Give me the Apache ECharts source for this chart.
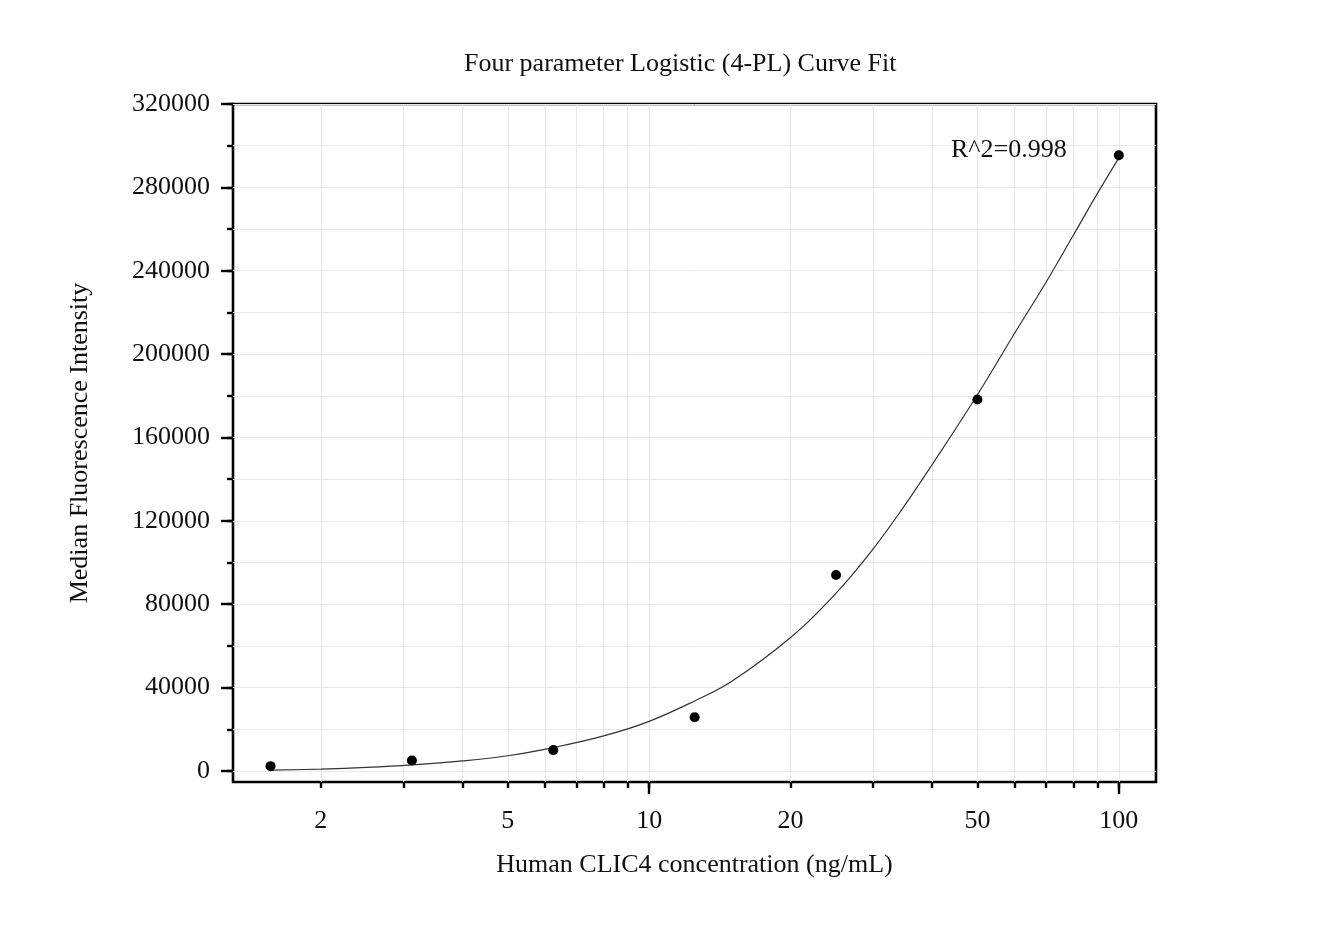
<!DOCTYPE html>
<html>
<head>
<meta charset="utf-8">
<title>4-PL Curve Fit</title>
<script src="https://cdn.jsdelivr.net/npm/echarts@6/dist/echarts.min.js"></script>
<style>
  html, body { margin: 0; padding: 0; background: #fff; }
  #chart { width: 1330px; height: 932px; }
</style>
</head>
<body>
<div id="chart"></div>
<script>
'use strict';

/* ── Data ── */
const pointConc = [1.5625, 3.125, 6.25, 12.5, 25, 50, 100];
const pointMFI  = [2300, 5000, 10000, 25800, 94000, 178200, 295400];

// fitted 4-PL curve
const curveConc = [1.5625, 2, 2.5, 3.125, 4, 5, 6.25, 8, 10, 12.5, 15, 20, 25, 30, 35, 40, 50, 60, 70, 80, 90, 100];
const curveMFI  = [400, 900, 1700, 2900, 4800, 7300, 11200, 16800, 23800, 33600, 43000, 64000, 85300, 106600, 127400, 146800, 180500, 210000, 234500, 257000, 277000, 294000];

const xLabelValues = [2, 5, 10, 20, 50, 100];
const xMajorTicks  = [10, 100];
const xMinorTicks  = [2, 3, 4, 5, 6, 7, 8, 9, 10, 20, 30, 40, 50, 60, 70, 80, 90, 100];
const yMajorTicks  = [0, 40000, 80000, 120000, 160000, 200000, 240000, 280000, 320000];
const yMinorTicks  = [0, 20000, 40000, 60000, 80000, 100000, 120000, 140000, 160000,
                      180000, 200000, 220000, 240000, 260000, 280000, 300000, 320000];

const titleText = 'Four parameter Logistic (4-PL) Curve Fit';
const xName = 'Human CLIC4 concentration (ng/mL)';
const yName = 'Median Fluorescence Intensity';
const r2Text = 'R^2=0.998';

/* ── Style ── */
const FONT = "'Liberation Serif', 'DejaVu Serif', serif";
const X_MIN = 1.3, X_MAX = 120;
const Y_MIN = -5300, Y_MAX = 320000;
const GRID_COLOR = '#e8e8e8';

const chart = echarts.init(document.getElementById('chart'), null, { renderer: 'canvas' });

const xBase = { type: 'log', logBase: 10, min: X_MIN, max: X_MAX, position: 'bottom' };
const yBase = { type: 'value', min: Y_MIN, max: Y_MAX, position: 'left' };
const noLine = { show: false, onZero: false };

chart.setOption({
  backgroundColor: '#fff',
  animation: false,
  textStyle: { fontFamily: FONT, color: '#000' },
  title: {
    text: titleText,
    left: 464,
    top: 51,
    padding: 0,
    textStyle: { fontFamily: FONT, fontSize: 26, fontWeight: 'normal', color: '#111' }
  },
  grid: {
    left: 233, top: 104, right: 174, bottom: 150,
    show: true, borderColor: '#000', borderWidth: 2.6, backgroundColor: 'transparent'
  },
  xAxis: [
    {
      ...xBase,
      name: xName,
      nameLocation: 'middle',
      nameGap: 70,
      nameTextStyle: { fontFamily: FONT, fontSize: 26, color: '#111' },
      axisLine: noLine,
      axisTick: { show: true, inside: false, length: 12, customValues: xMajorTicks,
                  lineStyle: { color: '#000', width: 2.4 } },
      axisLabel: { show: true, customValues: xLabelValues, margin: 26,
                   fontFamily: FONT, fontSize: 26, color: '#111',
                   formatter: v => String(v) },
      splitLine: { show: false },
      z: 5
    },
    {
      ...xBase,
      axisLine: noLine,
      axisTick: { show: true, inside: false, length: 6, customValues: xMinorTicks,
                  lineStyle: { color: '#000', width: 2.4 } },
      axisLabel: { show: false },
      splitLine: { show: true, lineStyle: { color: GRID_COLOR, width: 1 } },
      z: 4
    }
  ],
  yAxis: [
    {
      ...yBase,
      name: yName,
      nameLocation: 'middle',
      nameGap: 140,
      nameRotate: 90,
      nameTextStyle: { fontFamily: FONT, fontSize: 26, color: '#111' },
      axisLine: noLine,
      axisTick: { show: true, inside: false, length: 12, customValues: yMajorTicks,
                  lineStyle: { color: '#000', width: 2.4 } },
      axisLabel: { show: true, customValues: yMajorTicks, margin: 23,
                   fontFamily: FONT, fontSize: 26, color: '#111',
                   formatter: v => String(v) },
      splitLine: { show: false },
      z: 5
    },
    {
      ...yBase,
      axisLine: noLine,
      axisTick: { show: true, inside: false, length: 6, customValues: yMinorTicks,
                  lineStyle: { color: '#000', width: 2.4 } },
      axisLabel: { show: false },
      splitLine: { show: true, lineStyle: { color: GRID_COLOR, width: 1 } },
      z: 4
    }
  ],
  graphic: [{
    type: 'text',
    left: 951,
    top: 137,
    style: { text: r2Text, font: '26px ' + FONT, fill: '#111' },
    z: 10
  }],
  series: [
    {
      name: 'Fit',
      type: 'line',
      xAxisIndex: 0,
      yAxisIndex: 0,
      data: curveConc.map((c, i) => [c, curveMFI[i]]),
      smooth: 0.4,
      showSymbol: false,
      symbol: 'none',
      lineStyle: { color: '#333', width: 1.2 },
      z: 6
    },
    {
      name: 'Standards',
      type: 'scatter',
      xAxisIndex: 0,
      yAxisIndex: 0,
      data: pointConc.map((c, i) => [c, pointMFI[i]]),
      symbol: 'circle',
      symbolSize: 10,
      itemStyle: { color: '#000', opacity: 1 },
      z: 7
    }
  ]
});

window.addEventListener('resize', () => chart.resize());
</script>
</body>
</html>
